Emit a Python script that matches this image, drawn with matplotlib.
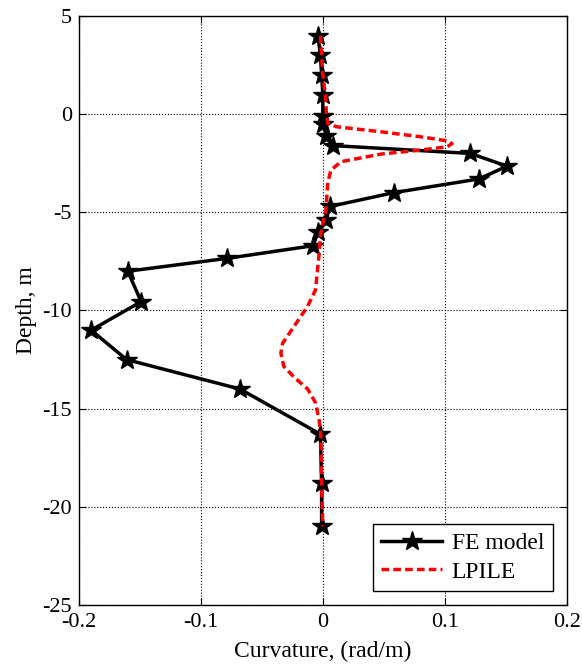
import matplotlib
matplotlib.use('Agg')
import matplotlib.pyplot as plt

plt.rcParams['font.family'] = ['Liberation Serif', 'DejaVu Serif']
plt.rcParams['axes.unicode_minus'] = False

# FE model (curvature rad/m, depth m)
fe_curv = [-0.004, -0.002, -0.001, 0.0, 0.0, 0.0, 0.003, 0.008, 0.121, 0.151, 0.128,
           0.058, 0.006, 0.0025, -0.004, -0.008, -0.079, -0.160, -0.149, -0.190,
           -0.161, -0.068, -0.002, -0.001, -0.001]
fe_depth = [4.0, 3.0, 2.0, 1.0, -0.1, -0.5, -1.1, -1.6, -2.0, -2.65, -3.3,
            -4.0, -4.7, -5.4, -6.0, -6.7, -7.35, -8.0, -9.55, -11.0,
            -12.5, -14.0, -16.3, -18.8, -21.0]

# LPILE
lp_curv = [-0.002, -0.001, 0.0, 0.002, 0.003, 0.004, 0.011, 0.048, 0.080, 0.102, 0.106,
           0.102, 0.080, 0.048, 0.015, 0.0066, 0.004, 0.0025, 0.0005, -0.002,
           -0.003, -0.006, -0.0126, -0.0235, -0.033, -0.0344, -0.032, -0.0235,
           -0.0125, -0.006, -0.003, -0.0016, -0.001, 0.0]
lp_depth = [4.0, 3.0, 2.0, 1.0, 0.0, -0.47, -0.64, -0.9, -1.15, -1.36, -1.5,
            -1.66, -1.83, -2.03, -2.42, -2.85, -3.5, -4.9, -5.4, -6.2,
            -7.1, -8.95, -9.8, -10.8, -11.67, -12.17, -12.85, -13.4,
            -14.0, -14.7, -15.6, -16.4, -18.8, -21.0]

fig = plt.figure(figsize=(5.82, 6.67), dpi=100)
ax = fig.add_axes([0.1357, 0.093, 0.838, 0.883])

ax.plot(fe_curv, fe_depth, color='black', lw=2.5, marker='*', ms=15,
        markerfacecolor='black', markeredgecolor='black', label='FE model', zorder=3)
ax.plot(lp_curv, lp_depth, color='red', lw=2.5, ls=(0, (2.2, 1.2)), label='LPILE', zorder=4)

ax.set_xlim(-0.2, 0.2)
ax.set_ylim(-25, 5)
ax.set_xticks([-0.2, -0.1, 0, 0.1, 0.2])
ax.set_xticklabels(['-0.2', '-0.1', '0', '0.1', '0.2'])
ax.set_yticks([-25, -20, -15, -10, -5, 0, 5])
ax.grid(True, color='black', ls=':', lw=0.8)
ax.tick_params(direction='in', top=True, right=True, labelsize=16, length=5)
ax.tick_params(axis='x', pad=6)
ax.tick_params(axis='y', pad=5)
for s in ax.spines.values():
    s.set_linewidth(1.0)

ax.set_xlabel('Curvature, (rad/m)', fontsize=17, labelpad=6)
ax.set_ylabel('Depth, m', fontsize=17, labelpad=4)

leg = ax.legend(loc='lower right', fontsize=17, fancybox=False, framealpha=1,
                edgecolor='black', handlelength=2.6, handletextpad=0.4,
                borderpad=0.35, labelspacing=0.3, borderaxespad=0.6)
leg.get_frame().set_linewidth(1.0)

plt.savefig('out.png', dpi=100)
